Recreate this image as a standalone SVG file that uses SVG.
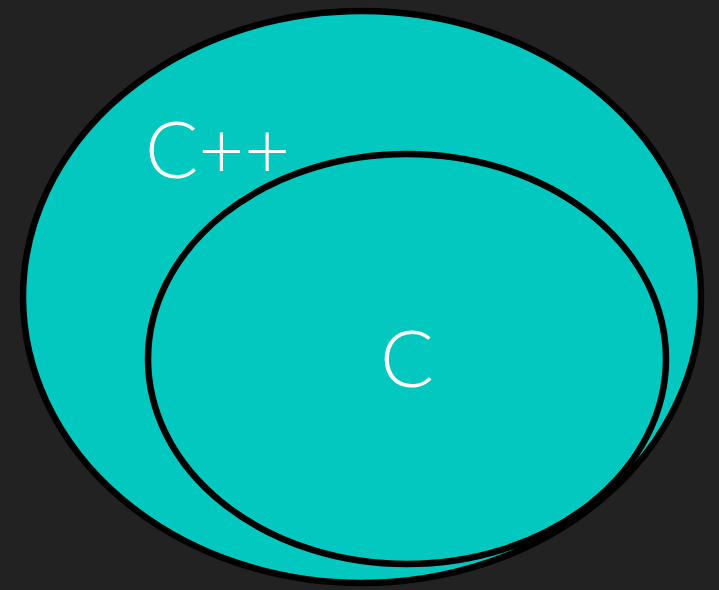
<svg xmlns="http://www.w3.org/2000/svg" width="719" height="590" viewBox="0 0 719 590">
<style>
.set{fill:#03c8bf;stroke:#000;stroke-width:6.5}
.lbl{fill:#fff;font-family:Lato,"Open Sans","Liberation Sans",sans-serif;font-weight:300;font-size:78px}
</style>
<rect width="719" height="590" fill="#222222"/>
<g id="cpp">
<ellipse class="set" cx="362" cy="297" rx="339" ry="286"/>
<text class="lbl" x="145" y="178" textLength="145" lengthAdjust="spacingAndGlyphs">C++</text>
</g>
<g id="c">
<ellipse class="set" cx="407" cy="359" rx="259" ry="205"/>
<text class="lbl" x="380" y="387" textLength="54" lengthAdjust="spacingAndGlyphs">C</text>
</g>
<g id="connectors"/>
</svg>
